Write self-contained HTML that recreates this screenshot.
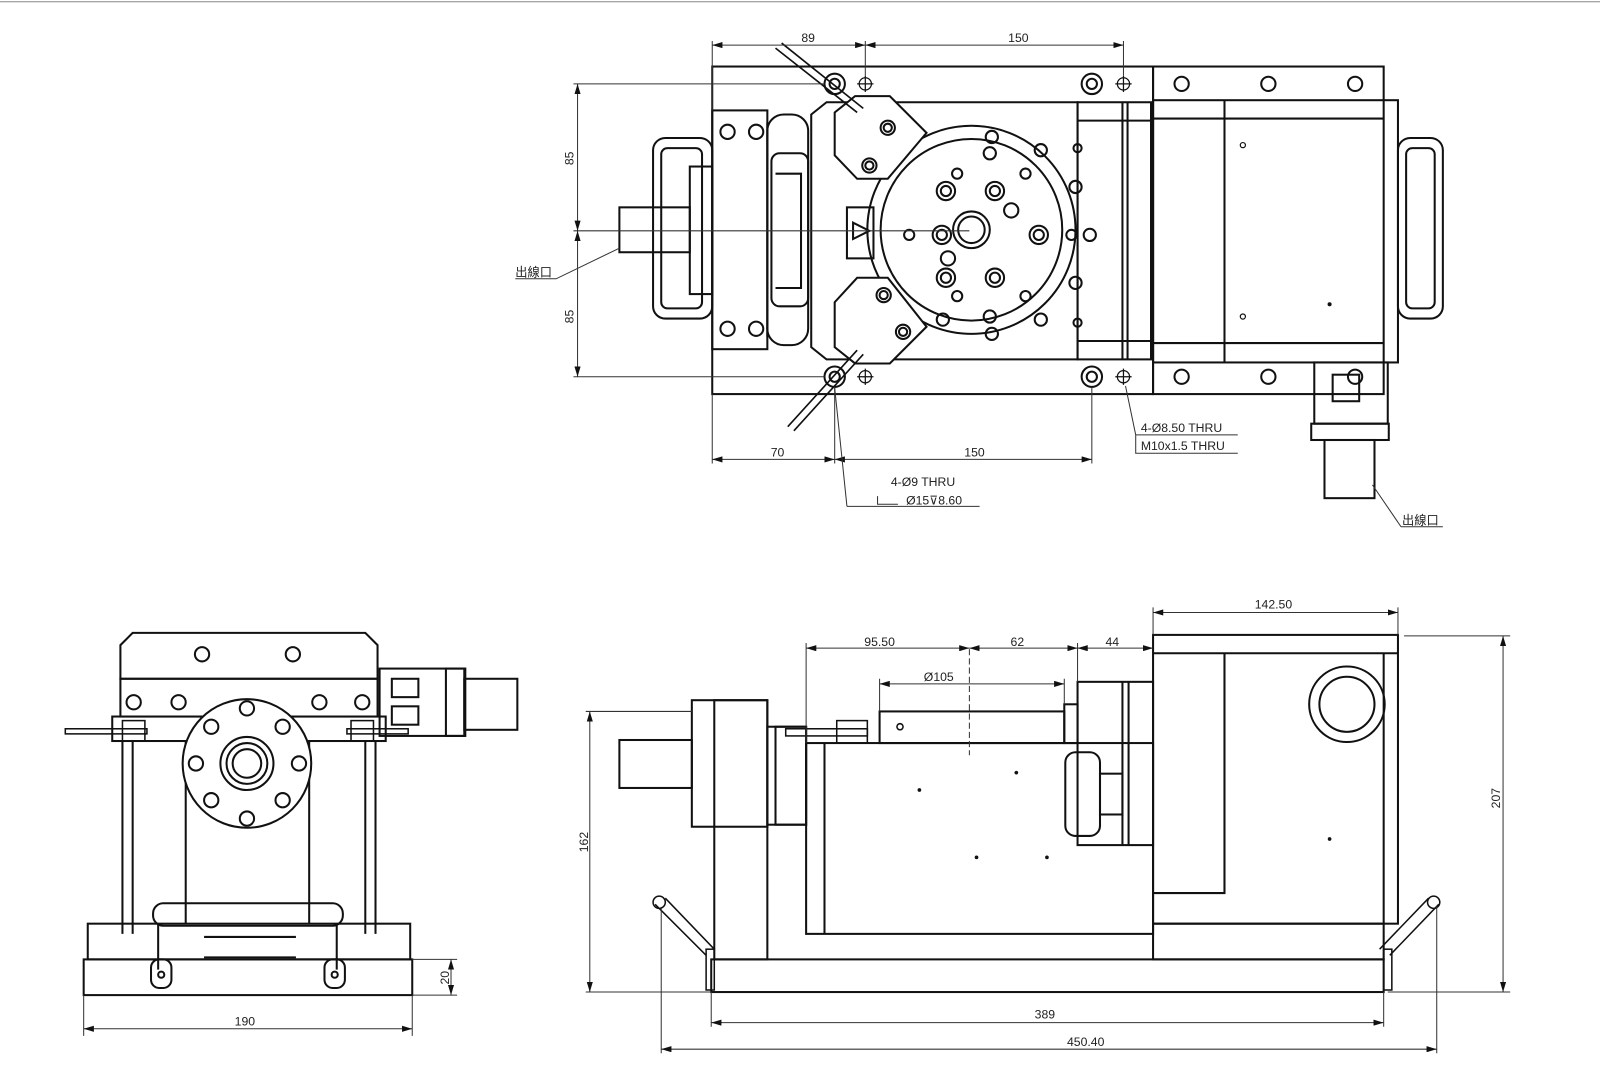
<!DOCTYPE html>
<html><head><meta charset="utf-8"><style>
html,body{margin:0;padding:0;background:#fff;}
svg{display:block}
text{font-family:"Liberation Sans","Noto Sans CJK TC",sans-serif;fill:#222;}
</style></head><body>
<svg width="1600" height="1080" viewBox="0 0 1568 1058" xmlns="http://www.w3.org/2000/svg">
<defs>
<marker id="a" viewBox="0 0 10 6" refX="10" refY="3" markerWidth="10" markerHeight="6" orient="auto-start-reverse" markerUnits="userSpaceOnUse"><path d="M0,0L10,3L0,6z" fill="#111"/></marker>
</defs>
<line x1="0" y1="1.5" x2="1568" y2="1.5" stroke="#888" stroke-width="1"/>

<!-- ================= TOP VIEW ================= -->
<g fill="none" stroke="#111" stroke-width="2">
<rect x="698" y="65" width="432" height="321"/>
<rect x="1130" y="65" width="226" height="321"/>
<rect x="1130" y="98" width="240" height="257"/>
<line x1="1200" y1="98" x2="1200" y2="355"/>
<line x1="1130" y1="116" x2="1356" y2="116"/>
<line x1="1130" y1="336" x2="1356" y2="336"/>
<rect x="1370" y="135" width="44" height="177" rx="12"/>
<rect x="1378" y="145" width="28" height="157" rx="6"/>
<rect x="1288" y="355" width="72" height="60"/>
<rect x="1306" y="367" width="26" height="26"/>
<rect x="1285" y="415" width="76" height="16"/>
<rect x="1298" y="431" width="49" height="57"/>
<!-- left -->
<rect x="698" y="108" width="54" height="234"/>
<rect x="640" y="135" width="58" height="177" rx="12"/>
<rect x="648" y="145" width="40" height="157" rx="6"/>
<rect x="676" y="163" width="22" height="125"/>
<rect x="607" y="203" width="69" height="44"/>
<rect x="752" y="112" width="40" height="226" rx="16"/>
<rect x="756" y="150" width="36" height="150" rx="8"/>
<path d="M760 170 L785 170 L785 282 L760 282"/>
<line x1="752" y1="120" x2="752" y2="330"/>
<!-- middle plate -->
<path d="M795 112 L810 100 L1056 100 L1056 352 L810 352 L795 340 Z"/>
<rect x="1056" y="100" width="72" height="252"/>
<line x1="1100" y1="100" x2="1100" y2="352"/>
<line x1="1105" y1="100" x2="1105" y2="352"/>
<line x1="1056" y1="118" x2="1128" y2="118"/>
<line x1="1056" y1="334" x2="1128" y2="334"/>
<!-- rotary table -->
<circle cx="952" cy="225" r="102"/>
<circle cx="952" cy="225" r="89"/>
<circle cx="952" cy="225" r="18"/>
<circle cx="952" cy="225" r="13"/>
<!-- clamps -->
<path d="M838 94 L872 94 L908 130 L870 175 L840 175 L818 152 L818 110 Z" fill="#fff"/>
<path d="M838 356 L872 356 L908 320 L870 272 L840 272 L818 296 L818 340 Z" fill="#fff"/>
<rect x="830" y="203" width="26" height="50"/>
<path d="M836 218 L852 226 L836 234 Z"/>
</g>
<g fill="none" stroke="#111" stroke-width="2">
<circle cx="870" cy="125" r="7"/><circle cx="870" cy="125" r="4"/>
<circle cx="852" cy="162" r="7"/><circle cx="852" cy="162" r="4"/>
<circle cx="866" cy="289" r="7"/><circle cx="866" cy="289" r="4"/>
<circle cx="885" cy="325" r="7"/><circle cx="885" cy="325" r="4"/>
<circle cx="972" cy="134" r="6"/><circle cx="1020" cy="147" r="6"/><circle cx="1054" cy="183" r="6"/><circle cx="1068" cy="230" r="6"/><circle cx="1054" cy="277" r="6"/><circle cx="1020" cy="313" r="6"/><circle cx="972" cy="327" r="6"/><circle cx="924" cy="313" r="6"/>
<circle cx="927" cy="187" r="9"/><circle cx="927" cy="187" r="5"/>
<circle cx="975" cy="187" r="9"/><circle cx="975" cy="187" r="5"/>
<circle cx="923" cy="230" r="9"/><circle cx="923" cy="230" r="5"/>
<circle cx="1018" cy="230" r="9"/><circle cx="1018" cy="230" r="5"/>
<circle cx="927" cy="272" r="9"/><circle cx="927" cy="272" r="5"/>
<circle cx="975" cy="272" r="9"/><circle cx="975" cy="272" r="5"/>
<circle cx="991" cy="206" r="7"/><circle cx="929" cy="253" r="7"/>
<circle cx="970" cy="150" r="6"/><circle cx="970" cy="310" r="6"/><circle cx="938" cy="170" r="5"/><circle cx="1005" cy="170" r="5"/>
<circle cx="938" cy="290" r="5"/><circle cx="1005" cy="290" r="5"/><circle cx="1050" cy="230" r="5"/><circle cx="891" cy="230" r="5"/>
<circle cx="1056" cy="145" r="4"/><circle cx="1056" cy="316" r="4"/>
</g>
<!-- bolt holes -->
<g fill="none" stroke="#111" stroke-width="2">
<circle cx="818" cy="82" r="10"/><circle cx="818" cy="82" r="5"/>
<circle cx="1070" cy="82" r="10"/><circle cx="1070" cy="82" r="5"/>
<circle cx="818" cy="369" r="10"/><circle cx="818" cy="369" r="5"/>
<circle cx="1070" cy="369" r="10"/><circle cx="1070" cy="369" r="5"/>
<circle cx="713" cy="129" r="7"/><circle cx="741" cy="129" r="7"/><circle cx="713" cy="322" r="7"/><circle cx="741" cy="322" r="7"/>
<circle cx="1158" cy="82" r="7"/><circle cx="1243" cy="82" r="7"/><circle cx="1328" cy="82" r="7"/>
<circle cx="1158" cy="369" r="7"/><circle cx="1243" cy="369" r="7"/><circle cx="1328" cy="369" r="7"/>
</g>
<g fill="none" stroke="#111" stroke-width="1.2">
<circle cx="848" cy="82" r="6"/><circle cx="1101" cy="82" r="6"/><circle cx="848" cy="369" r="6"/><circle cx="1101" cy="369" r="6"/>
<path d="M840 82h16M848 74v16M1093 82h16M1101 74v16M840 369h16M848 361v16M1093 369h16M1101 361v16"/>
<circle cx="1218" cy="142" r="2.5"/><circle cx="1218" cy="310" r="2.5"/>
</g>
<circle cx="1303" cy="298" r="2" fill="#111"/>
<g stroke="#111" stroke-width="1.6" fill="none">
<path d="M760 47 L840 110 M766 42 L846 106"/>
<path d="M772 418 L840 343 M778 422 L846 347"/>
</g>
<!-- top dims -->
<g stroke="#333" stroke-width="1" fill="none">
<path d="M698 40V108M848 40V74M1101 40V74"/>
<line x1="698" y1="44" x2="848" y2="44" marker-start="url(#a)" marker-end="url(#a)"/>
<line x1="848" y1="44" x2="1101" y2="44" marker-start="url(#a)" marker-end="url(#a)"/>
<path d="M562 82H808M562 226H950M562 369H808"/>
<line x1="566" y1="82" x2="566" y2="226" marker-start="url(#a)" marker-end="url(#a)"/>
<line x1="566" y1="226" x2="566" y2="369" marker-start="url(#a)" marker-end="url(#a)"/>
<path d="M698 386V454M818 379V454M1070 379V454"/>
<line x1="698" y1="450" x2="818" y2="450" marker-start="url(#a)" marker-end="url(#a)"/>
<line x1="818" y1="450" x2="1070" y2="450" marker-start="url(#a)" marker-end="url(#a)"/>
<path d="M505 273H545L607 243"/>
<path d="M1373 516H1414M1373 516L1345 475"/>
<path d="M1113 426H1213M1113 426V444H1213M1113 426L1103 378"/>
<path d="M830 496H960M830 496L818 380"/>
<path d="M860 486V494H880"/>
</g>
<g font-size="12" text-anchor="middle">
<text x="792" y="41">89</text><text x="998" y="41">150</text>
<text x="762" y="447">70</text><text x="955" y="447">150</text>
<text transform="translate(562,155) rotate(-90)">85</text>
<text transform="translate(562,310) rotate(-90)">85</text>
</g>
<g font-size="12">
<text x="505" y="271">出線口</text>
<text x="1374" y="514">出線口</text>
<text x="1118" y="423">4-Ø8.50 THRU</text>
<text x="1118" y="441">M10x1.5 THRU</text>
<text x="873" y="476">4-Ø9 THRU</text>
<text x="888" y="494">Ø15⊽8.60</text>
</g>

<!-- ================= FRONT VIEW (bottom-left) ================= -->
<g fill="none" stroke="#111" stroke-width="2">
<rect x="82" y="940" width="322" height="35"/>
<rect x="86" y="905" width="316" height="35"/>
<path d="M118 665 L118 632 L130 620 L358 620 L370 632 L370 665 Z"/>
<rect x="118" y="665" width="252" height="37"/>
<rect x="110" y="702" width="268" height="24"/>
<line x1="120" y1="726" x2="120" y2="915"/><line x1="130" y1="726" x2="130" y2="915"/>
<line x1="358" y1="726" x2="358" y2="915"/><line x1="368" y1="726" x2="368" y2="915"/>
<line x1="182" y1="726" x2="182" y2="905"/><line x1="303" y1="726" x2="303" y2="905"/>
<circle cx="242" cy="748" r="63" fill="#fff"/>
<circle cx="242" cy="748" r="26"/><circle cx="242" cy="748" r="20"/><circle cx="242" cy="748" r="14"/>
<rect x="372" y="655" width="84" height="66"/>
<rect x="384" y="665" width="26" height="18"/><rect x="384" y="692" width="26" height="18"/>
<rect x="437" y="655" width="18" height="66"/>
<rect x="455" y="665" width="52" height="50"/>
<rect x="150" y="885" width="186" height="22" rx="10"/>
<line x1="155" y1="905" x2="155" y2="950"/><line x1="330" y1="905" x2="330" y2="950"/>
<rect x="148" y="940" width="20" height="28" rx="8"/><rect x="318" y="940" width="20" height="28" rx="8"/>
<line x1="200" y1="918" x2="290" y2="918"/><line x1="200" y1="938" x2="290" y2="938"/>
</g>
<g fill="none" stroke="#111" stroke-width="2">
<circle cx="131" cy="688" r="7"/><circle cx="175" cy="688" r="7"/><circle cx="313" cy="688" r="7"/><circle cx="355" cy="688" r="7"/>
<circle cx="198" cy="641" r="7"/><circle cx="287" cy="641" r="7"/>
<circle cx="242" cy="694" r="7"/><circle cx="207" cy="712" r="7"/><circle cx="277" cy="712" r="7"/>
<circle cx="192" cy="748" r="7"/><circle cx="293" cy="748" r="7"/><circle cx="242" cy="802" r="7"/><circle cx="207" cy="784" r="7"/><circle cx="277" cy="784" r="7"/>
<circle cx="158" cy="955" r="3"/><circle cx="328" cy="955" r="3"/>
</g>
<g stroke="#111" stroke-width="1.5" fill="none">
<rect x="64" y="714" width="80" height="5"/><rect x="340" y="714" width="60" height="5"/>
<rect x="120" y="706" width="22" height="20"/><rect x="344" y="706" width="22" height="20"/>
</g>
<g stroke="#333" stroke-width="1" fill="none">
<path d="M82 975V1015M404 975V1015"/>
<line x1="82" y1="1008" x2="404" y2="1008" marker-start="url(#a)" marker-end="url(#a)"/>
<path d="M404 940H448M404 975H448"/>
<line x1="442" y1="940" x2="442" y2="975" marker-start="url(#a)" marker-end="url(#a)"/>
</g>
<g font-size="12" text-anchor="middle">
<text x="240" y="1005">190</text>
<text transform="translate(440,958) rotate(-90)">20</text>
</g>

<!-- ================= SIDE VIEW ================= -->
<g fill="none" stroke="#111" stroke-width="2">
<rect x="697" y="940" width="659" height="32"/>
<rect x="1130" y="905" width="226" height="35"/>
<rect x="1130" y="622" width="240" height="283"/>
<line x1="1200" y1="640" x2="1200" y2="875"/>
<path d="M1130 640H1370M1130 875H1200V640"/>
<line x1="1356" y1="640" x2="1356" y2="905"/>
<circle cx="1320" cy="690" r="37"/><circle cx="1320" cy="690" r="27"/>
<rect x="790" y="728" width="340" height="187"/>
<line x1="808" y1="728" x2="808" y2="915"/>
<rect x="862" y="697" width="181" height="31"/>
<rect x="1056" y="668" width="74" height="160"/>
<line x1="1100" y1="668" x2="1100" y2="828"/><line x1="1106" y1="668" x2="1106" y2="828"/>
<rect x="1044" y="737" width="34" height="82" rx="10"/>
<rect x="1078" y="758" width="22" height="40"/>
<rect x="678" y="686" width="74" height="124"/>
<rect x="700" y="686" width="52" height="254"/>
<rect x="607" y="725" width="71" height="47"/>
<rect x="752" y="712" width="38" height="96"/>
<rect x="760" y="712" width="30" height="96"/>
<rect x="1043" y="690" width="13" height="38"/>
</g>
<g stroke="#111" stroke-width="1.5" fill="none">
<rect x="770" y="714" width="80" height="7"/><rect x="820" y="706" width="30" height="22"/>
<circle cx="882" cy="712" r="3"/>
<path d="M642 886 L692 936 M652 880 L700 930"/>
<path d="M1362 936 L1410 886 M1352 930 L1400 880"/>
<rect x="692" y="930" width="8" height="40"/><rect x="1356" y="930" width="8" height="40"/>
<circle cx="646" cy="884" r="6"/><circle cx="1405" cy="884" r="6"/>
</g>
<g fill="#111">
<circle cx="901" cy="774" r="1.8"/><circle cx="996" cy="757" r="1.8"/><circle cx="957" cy="840" r="1.8"/><circle cx="1026" cy="840" r="1.8"/><circle cx="1303" cy="822" r="1.8"/>
</g>
<line x1="950" y1="636" x2="950" y2="740" stroke="#333" stroke-width="1" stroke-dasharray="6,3"/>
<g stroke="#333" stroke-width="1" fill="none">
<path d="M1130 595V622M1370 595V622"/>
<line x1="1130" y1="600" x2="1370" y2="600" marker-start="url(#a)" marker-end="url(#a)"/>
<path d="M790 630V728M1056 630V668"/>
<line x1="790" y1="635" x2="950" y2="635" marker-start="url(#a)" marker-end="url(#a)"/>
<line x1="950" y1="635" x2="1056" y2="635" marker-start="url(#a)" marker-end="url(#a)"/>
<line x1="1056" y1="635" x2="1130" y2="635" marker-start="url(#a)" marker-end="url(#a)"/>
<path d="M862 665V697M1043 665V690"/>
<line x1="862" y1="670" x2="1043" y2="670" marker-start="url(#a)" marker-end="url(#a)"/>
<path d="M574 697H678M574 972H697M1376 623H1480M1360 972H1480"/>
<line x1="578" y1="697" x2="578" y2="972" marker-start="url(#a)" marker-end="url(#a)"/>
<line x1="1473" y1="623" x2="1473" y2="972" marker-start="url(#a)" marker-end="url(#a)"/>
<path d="M697 972V1006M1356 972V1006M648 890V1032M1408 888V1032"/>
<line x1="697" y1="1002" x2="1356" y2="1002" marker-start="url(#a)" marker-end="url(#a)"/>
<line x1="648" y1="1028" x2="1408" y2="1028" marker-start="url(#a)" marker-end="url(#a)"/>
</g>
<g font-size="12" text-anchor="middle">
<text x="1248" y="596">142.50</text>
<text x="862" y="633">95.50</text>
<text x="997" y="633">62</text>
<text x="1090" y="633">44</text>
<text x="920" y="667">Ø105</text>
<text x="1024" y="998">389</text>
<text x="1064" y="1025">450.40</text>
<text transform="translate(576,825) rotate(-90)">162</text>
<text transform="translate(1470,782) rotate(-90)">207</text>
</g>
</svg>
</body></html>
